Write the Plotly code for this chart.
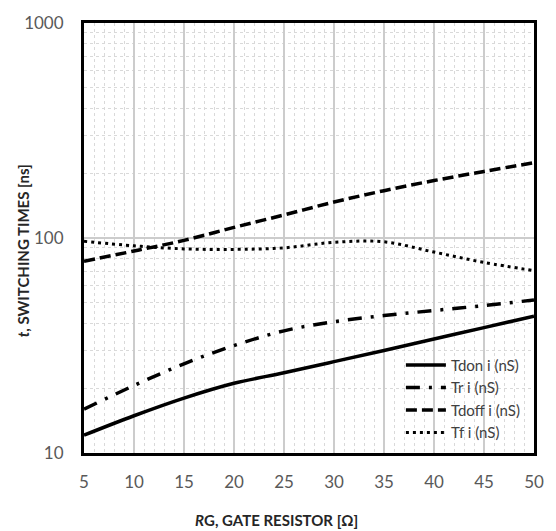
import plotly.graph_objects as go

rg = [5, 10, 15, 20, 25, 30, 35, 40, 45, 50]
tdon = [12.1, 14.9, 18.0, 21.1, 23.6, 26.6, 30.0, 33.9, 38.3, 43.3]
tr = [16.0, 20.6, 26.0, 31.6, 37.0, 40.8, 43.6, 46.0, 48.5, 51.5]
tdoff = [78, 87, 97.5, 112, 128, 147, 166, 185, 204, 224]
tf = [96.5, 92, 89, 88.5, 90, 95.5, 96, 86, 77, 70.5]

names = ["Tdon i (nS)", "Tr i (nS)", "Tdoff i (nS)", "Tf i (nS)"]
x_ticks = [5, 10, 15, 20, 25, 30, 35, 40, 45, 50]
y_ticks = [10, 100, 1000]
y_minor = [m * d for d in (10, 100) for m in range(2, 10)]

FONT = "Lato"
fig = go.Figure()
styles = [
    dict(dash="solid", width=3.5),
    dict(dash="14px,9px,3px,9px", width=3.5),
    dict(dash="11px,5px", width=3.5),
    dict(dash="3px,4px", width=3),
]
for name, ys, st in zip(names, [tdon, tr, tdoff, tf], styles):
    fig.add_trace(go.Scatter(x=rg, y=ys, name=name, mode="lines",
                             line=dict(color="black", shape="spline", **st)))

fig.update_layout(
    width=556, height=531,
    margin=dict(l=84, r=22, t=14, b=78),
    paper_bgcolor="white", plot_bgcolor="white",
    showlegend=True,
    legend=dict(x=0.982, xanchor="right", y=0.01, yanchor="bottom",
                bgcolor="rgba(0,0,0,0)", font=dict(family=FONT, size=15, color="#404040"),
                tracegroupgap=0, itemwidth=40),
    font=dict(family=FONT),
)
fig.update_xaxes(range=[5, 50], tickvals=x_ticks, ticktext=[str(v) for v in x_ticks],
                 showgrid=True, gridcolor="#cccccc", gridwidth=2,
                 minor=dict(dtick=1, showgrid=True, gridcolor="#d9d9d9", griddash="dot", gridwidth=1),
                 showline=True, linecolor="black", linewidth=3, mirror=True,
                 ticks="", tickfont=dict(family=FONT, size=17, color="#595959"),
                 ticklabelstandoff=12, zeroline=False)
fig.update_yaxes(type="log", range=[1, 3], tickvals=y_ticks, ticktext=[str(v) for v in y_ticks],
                 showgrid=True, gridcolor="#cccccc", gridwidth=2,
                 minor=dict(tickmode="array", tickvals=y_minor, showgrid=True,
                            gridcolor="#d9d9d9", griddash="dot", gridwidth=1),
                 showline=True, linecolor="black", linewidth=3, mirror=True,
                 ticks="", tickfont=dict(family=FONT, size=17, color="#595959"),
                 ticklabelstandoff=14, zeroline=False)

fig.add_annotation(text="<b><i>t</i>, SWITCHING TIMES [ns]</b>", xref="paper", yref="paper",
                   x=-0.1356, y=0.4715, xanchor="center", yanchor="middle",
                   textangle=-90, showarrow=False,
                   font=dict(family=FONT, size=15, color="#262626"))
fig.add_annotation(text="<b><i>R</i>G, GATE RESISTOR [Ω]</b>", xref="paper", yref="paper",
                   x=0.4267, y=-0.155, xanchor="center", yanchor="middle", showarrow=False,
                   font=dict(family=FONT, size=15, color="#262626"))

fig.write_html("out.html")
